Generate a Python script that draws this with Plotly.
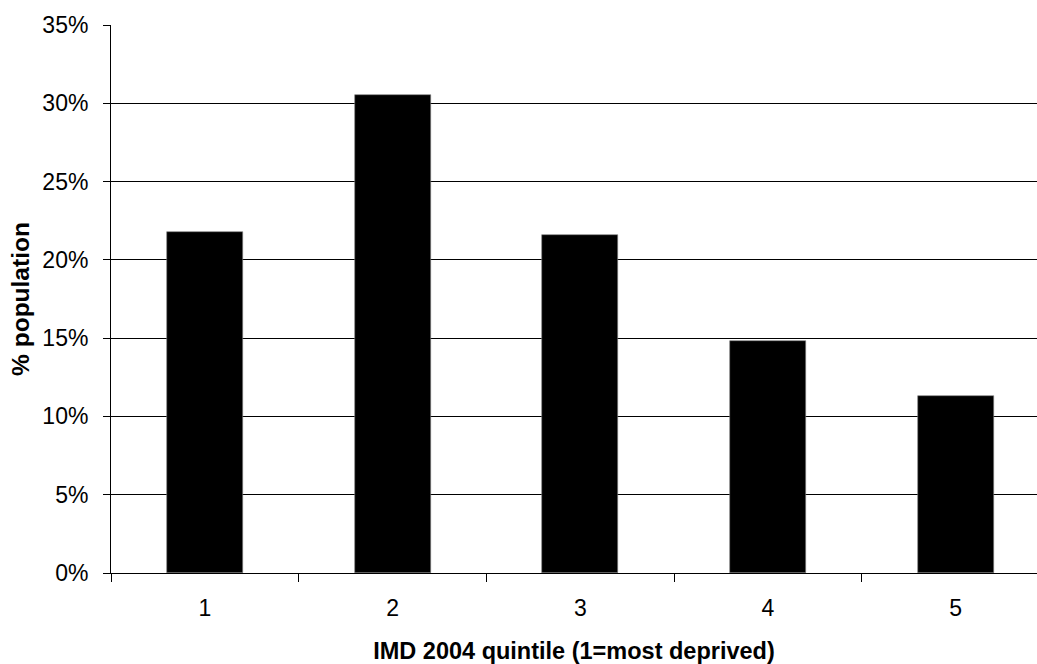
import plotly.graph_objects as go

# IMD 2004 quintiles and share of population in each
quintiles = ["1", "2", "3", "4", "5"]
population_pct = [21.8, 30.5, 21.6, 14.8, 11.3]
y_ticks = [0, 5, 10, 15, 20, 25, 30, 35]

font_family = "Liberation Sans, Arial, sans-serif"

fig = go.Figure(
    go.Bar(
        x=quintiles,
        y=population_pct,
        width=0.405,
        marker=dict(color="black", line=dict(color="#7f7f7f", width=0.6)),
        hoverinfo="x+y",
    )
)

fig.update_layout(
    width=1037,
    height=664,
    margin=dict(l=110.5, r=0, t=24.7, b=91, pad=0),
    paper_bgcolor="white",
    plot_bgcolor="white",
    showlegend=False,
    font=dict(family=font_family, size=23, color="black"),
    bargap=0,
)

fig.update_xaxes(
    type="category",
    categoryorder="array",
    categoryarray=quintiles,
    range=[-0.5, 4.433],
    tickson="boundaries",
    ticks="outside",
    ticklen=8,
    tickwidth=1,
    tickcolor="black",
    showline=True,
    linecolor="black",
    linewidth=1,
    showgrid=False,
    zeroline=False,
    tickfont=dict(size=23),
    ticklabelstandoff=14,
    title=dict(
        text="<b>IMD 2004 quintile (1=most deprived)</b>",
        font=dict(size=23.5),
        standoff=24,
    ),
)

fig.update_yaxes(
    range=[0, 35],
    tickvals=y_ticks,
    ticktext=[f"{v}%" for v in y_ticks],
    ticks="outside",
    ticklen=7,
    tickwidth=1,
    tickcolor="black",
    showline=True,
    linecolor="black",
    linewidth=1,
    showgrid=True,
    gridcolor="black",
    gridwidth=1,
    zeroline=False,
    tickfont=dict(size=23),
    ticklabelstandoff=10,
    title=dict(
        text="<b>% population</b>",
        font=dict(size=24.5),
        standoff=5,
    ),
)

fig.write_html("out.html")
